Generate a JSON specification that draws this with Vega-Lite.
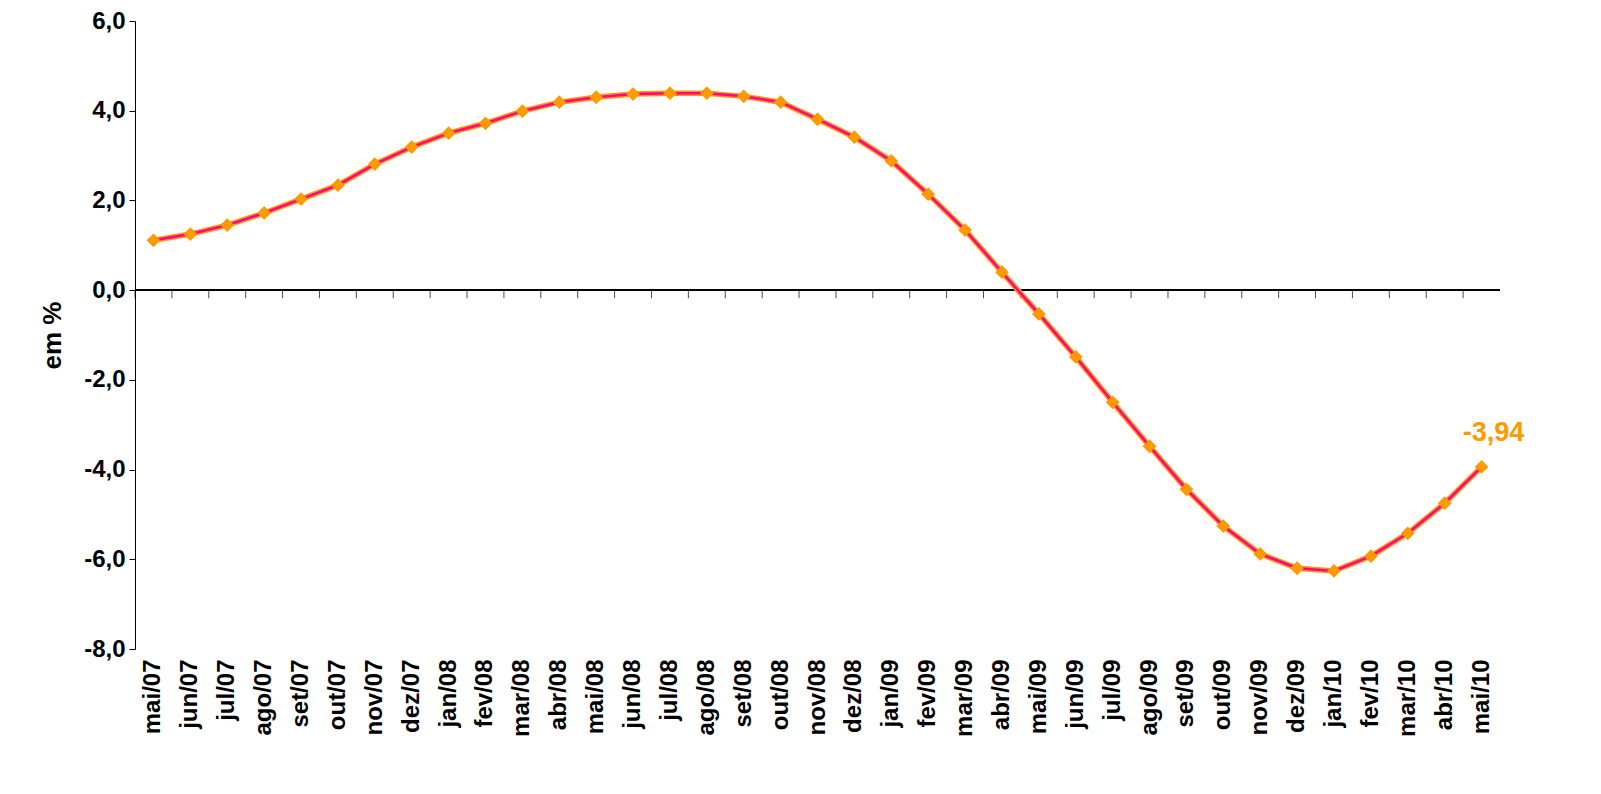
{
  "$schema": "https://vega.github.io/schema/vega-lite/v6.json",
  "width": 1365,
  "height": 628,
  "autosize": "none",
  "padding": {"left": 135, "top": 21, "right": 101, "bottom": 145},
  "background": "white",
  "config": {"view": {"stroke": null}, "axis": {"grid": false, "domainColor": "black", "tickColor": "black", "labelFont": "Liberation Sans", "titleFont": "Liberation Sans", "labelFontWeight": "bold", "labelColor": "black", "labelFontSize": 24}},
  "data": {"values": [
    {"m": "mai/07", "v": 1.11}, {"m": "jun/07", "v": 1.25}, {"m": "jul/07", "v": 1.45},
    {"m": "ago/07", "v": 1.72}, {"m": "set/07", "v": 2.03}, {"m": "out/07", "v": 2.34},
    {"m": "nov/07", "v": 2.81}, {"m": "dez/07", "v": 3.19}, {"m": "jan/08", "v": 3.5},
    {"m": "fev/08", "v": 3.72}, {"m": "mar/08", "v": 3.99}, {"m": "abr/08", "v": 4.19},
    {"m": "mai/08", "v": 4.3}, {"m": "jun/08", "v": 4.37}, {"m": "jul/08", "v": 4.39},
    {"m": "ago/08", "v": 4.39}, {"m": "set/08", "v": 4.32}, {"m": "out/08", "v": 4.19},
    {"m": "nov/08", "v": 3.81}, {"m": "dez/08", "v": 3.41}, {"m": "jan/09", "v": 2.88},
    {"m": "fev/09", "v": 2.14}, {"m": "mar/09", "v": 1.34}, {"m": "abr/09", "v": 0.4},
    {"m": "mai/09", "v": -0.53}, {"m": "jun/09", "v": -1.49}, {"m": "jul/09", "v": -2.5},
    {"m": "ago/09", "v": -3.48}, {"m": "set/09", "v": -4.44}, {"m": "out/09", "v": -5.26},
    {"m": "nov/09", "v": -5.88}, {"m": "dez/09", "v": -6.2}, {"m": "jan/10", "v": -6.26},
    {"m": "fev/10", "v": -5.93}, {"m": "mar/10", "v": -5.42}, {"m": "abr/10", "v": -4.75},
    {"m": "mai/10", "v": -3.94, "label": "-3,94"}
  ]},
  "encoding": {
    "x": {"field": "m", "type": "ordinal", "sort": null, "scale": {"type": "band", "paddingInner": 0, "paddingOuter": 0},
      "axis": {"title": null, "labelAngle": -90, "domain": false, "ticks": false, "labelPadding": 10, "labelBaseline": "middle", "labelAlign": "right"}},
    "y": {"field": "v", "type": "quantitative", "scale": {"domain": [-8, 6], "nice": false},
      "axis": {"values": [-8, -6, -4, -2, 0, 2, 4, 6], "labelExpr": "replace(replace(format(datum.value, '.1f'), '.', ','), '\u2212', '-')", "title": "em %", "titleFontSize": 26, "titleFontWeight": "bold", "titleColor": "black", "titlePadding": 18, "tickSize": 6, "labelPadding": 4}}
  },
  "layer": [
    {"mark": {"type": "rule", "color": "black", "strokeWidth": 1}, "encoding": {"y": {"datum": 0}, "x": {"value": 0}, "x2": {"value": 1365}}},
    {"mark": {"type": "tick", "orient": "vertical", "color": "black", "size": 8, "thickness": 1, "yOffset": 4, "xOffset": -18.45}, "encoding": {"y": {"datum": 0}}},
    {"mark": {"type": "line", "color": "#FF9900", "strokeWidth": 5.5}},
    {"mark": {"type": "line", "color": "#FF0099", "strokeWidth": 2.5}},
    {"mark": {"type": "point", "shape": "diamond", "filled": true, "color": "#FF9900", "size": 190, "opacity": 1}},
    {"transform": [{"filter": "datum.label"}],
     "mark": {"type": "text", "color": "#FF9900", "fontSize": 27, "fontWeight": "bold", "font": "Liberation Sans", "dx": 12, "dy": -34},
     "encoding": {"text": {"field": "label"}}}
  ]
}
